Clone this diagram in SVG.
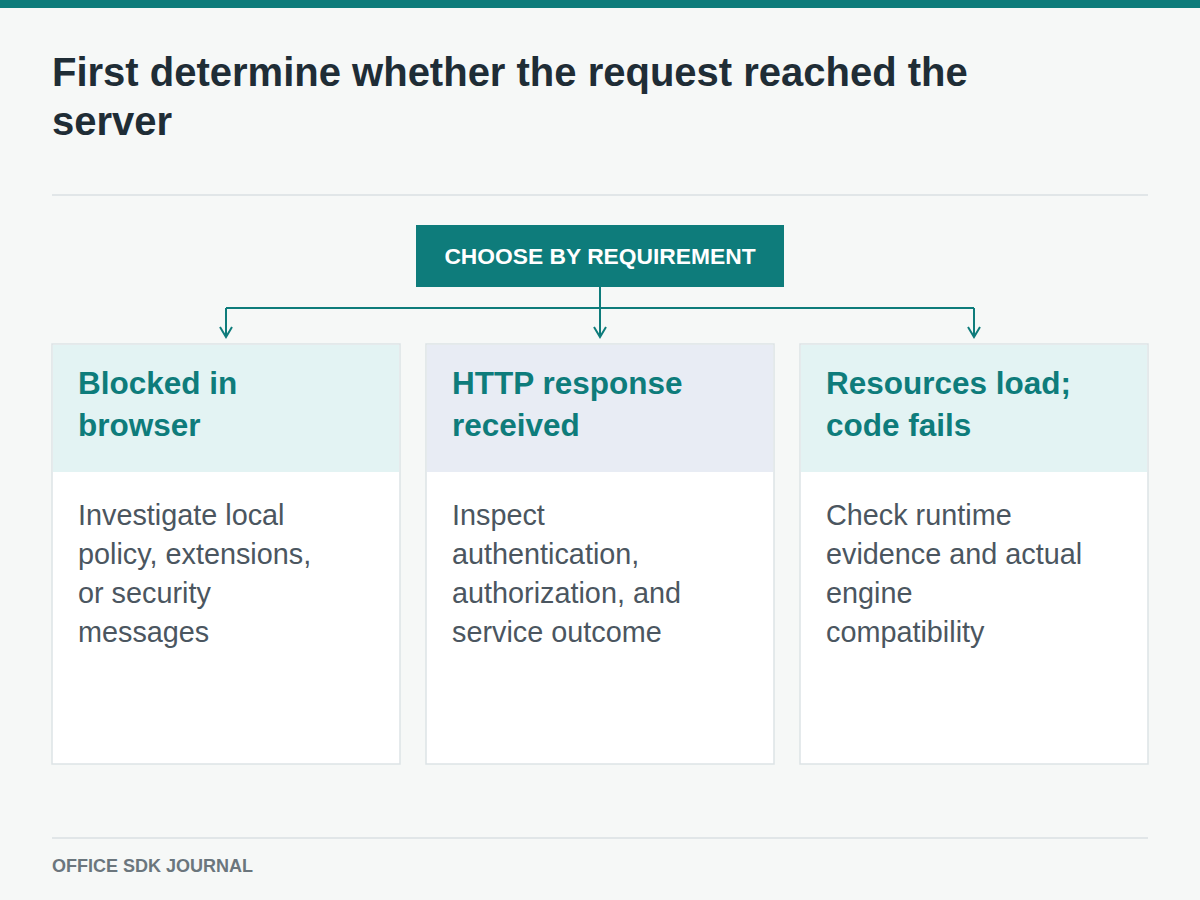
<svg xmlns="http://www.w3.org/2000/svg" width="1200" height="900" viewBox="0 0 1200 900">
<style>
.t{font-family:"Liberation Sans",Arial,sans-serif}
.h{font-size:31.5px;font-weight:bold;fill:#0e7c7b}
.b{font-size:28.8px;fill:#4b5660}
.card{fill:#fff;stroke:#dde3e6;stroke-width:1.5}
.ln{fill:none;stroke:#0e7c7b;stroke-width:2}
</style>
<defs><marker id="a" markerWidth="14" markerHeight="14" refX="11" refY="7" orient="auto" markerUnits="userSpaceOnUse"><path d="M1,1 L11,7 L1,13" fill="none" stroke="#0e7c7b" stroke-width="2"/></marker></defs>
<rect width="1200" height="900" fill="#f6f8f7"/>
<rect width="1200" height="8" fill="#0e7c7b"/>
<text class="t" x="52" y="86" font-size="40" font-weight="bold" fill="#1f2d36">First determine whether the request reached the</text>
<text class="t" x="52" y="135" font-size="40" font-weight="bold" fill="#1f2d36">server</text>
<line x1="52" y1="195" x2="1148" y2="195" stroke="#e1e6e8" stroke-width="2"/>
<g id="root"><rect x="416" y="225" width="368" height="62" fill="#0e7c7b"/><text class="t" x="600" y="264" text-anchor="middle" font-size="22.8" font-weight="bold" fill="#fff">CHOOSE BY REQUIREMENT</text></g>
<g id="connectors">
<path class="ln" d="M600,287 V308"/>
<path class="ln" d="M226,308 H974"/>
<path class="ln" d="M226,308 V337" marker-end="url(#a)"/>
<path class="ln" d="M600,308 V337" marker-end="url(#a)"/>
<path class="ln" d="M974,308 V337" marker-end="url(#a)"/>
</g>
<g id="card1"><rect class="card" x="52" y="344" width="348" height="420"/><rect x="53" y="345" width="346" height="127" fill="#e3f3f3"/>
<text class="t h" x="78" y="394">Blocked in</text><text class="t h" x="78" y="436">browser</text>
<text class="t b" x="78" y="525">Investigate local</text><text class="t b" x="78" y="564">policy, extensions,</text><text class="t b" x="78" y="603">or security</text><text class="t b" x="78" y="642">messages</text></g>
<g id="card2"><rect class="card" x="426" y="344" width="348" height="420"/><rect x="427" y="345" width="346" height="127" fill="#e8ecf4"/>
<text class="t h" x="452" y="394">HTTP response</text><text class="t h" x="452" y="436">received</text>
<text class="t b" x="452" y="525">Inspect</text><text class="t b" x="452" y="564">authentication,</text><text class="t b" x="452" y="603">authorization, and</text><text class="t b" x="452" y="642">service outcome</text></g>
<g id="card3"><rect class="card" x="800" y="344" width="348" height="420"/><rect x="801" y="345" width="346" height="127" fill="#e3f3f3"/>
<text class="t h" x="826" y="394">Resources load;</text><text class="t h" x="826" y="436">code fails</text>
<text class="t b" x="826" y="525">Check runtime</text><text class="t b" x="826" y="564">evidence and actual</text><text class="t b" x="826" y="603">engine</text><text class="t b" x="826" y="642">compatibility</text></g>
<line x1="52" y1="838" x2="1148" y2="838" stroke="#e1e6e8" stroke-width="2"/>
<text class="t" x="52" y="872" font-size="18" font-weight="bold" fill="#6b767d">OFFICE SDK JOURNAL</text>
</svg>
